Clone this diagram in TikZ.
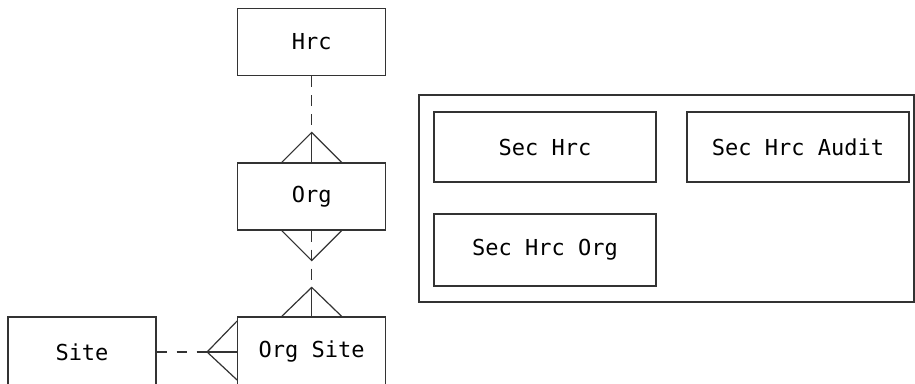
\documentclass[tikz,border=0pt]{standalone}
\usepackage{fontspec}
\setmonofont{DejaVu Sans Mono}
\usetikzlibrary{positioning, calc}

\tikzset{
    entity/.style={draw=black!80, line width=0.6pt, minimum width=74pt,
                   minimum height=33.5pt, font=\ttfamily\fontsize{11}{13}\selectfont},
    secbox/.style={entity, minimum width=111pt, minimum height=35pt},
    rel/.style={draw=black!80, line width=0.6pt, dash pattern=on 5.5pt off 4pt},
    toe/.style={draw=black!80, line width=0.6pt}
}

\begin{document}
\begin{tikzpicture}[x=0.5pt, y=-0.5pt]
    \useasboundingbox (0,0) rectangle (915,384);

    \node[entity] (hrc) at (311.7,42) {Hrc};
    \node[entity] (org) at (311.7,196.5) {Org};
    \node[entity, minimum height=35pt] (orgsite) at (311.7,352) {Org Site};
    \node[entity, minimum height=35pt] (site) at (82,352) {Site};

    % security tables
    \node[draw=black!80, line width=0.6pt, minimum width=247.5pt,
          minimum height=103.5pt] (secgrp) at (666.5,198.5) {};
    \node[secbox] (sechrc) at (545,147) {Sec Hrc};
    \node[secbox] (sechrcaudit) at (798,147) {Sec Hrc Audit};
    \node[secbox, minimum height=36pt] (sechrcorg) at (545,250) {Sec Hrc Org};

    % Hrc -- Org
    \coordinate (orgfoot) at ($(org.north)+(0,-30)$);
    \draw[rel] (hrc.south) -- (orgfoot);
    \draw[toe] (org.north) -- (orgfoot);
    \draw[toe] ($(org.north)+(-30,0)$) -- (orgfoot) -- ($(org.north)+(30,0)$);

    % Org -- Org Site
    \coordinate (orgtip) at ($(org.south)+(0,30)$);
    \coordinate (orgsitefoot) at ($(orgsite.north)+(0,-29)$);
    \draw[toe] ($(org.south)+(-30,0)$) -- (orgtip) -- ($(org.south)+(30,0)$);
    \draw[rel] (org.south) -- (orgsitefoot);
    \draw[toe] (orgsite.north) -- (orgsitefoot);
    \draw[toe] ($(orgsite.north)+(-30,0)$) -- (orgsitefoot) -- ($(orgsite.north)+(30,0)$);

    % Site -- Org Site
    \coordinate (sitefoot) at ($(orgsite.west)+(-30,0)$);
    \draw[rel, dash pattern=on 5pt off 5pt] (site.east) -- (sitefoot);
    \draw[toe] (orgsite.west) -- (sitefoot);
    \draw[toe] ($(orgsite.west)+(0,-31)$) -- (sitefoot) -- ($(orgsite.west)+(0,28)$);
\end{tikzpicture}
\end{document}
